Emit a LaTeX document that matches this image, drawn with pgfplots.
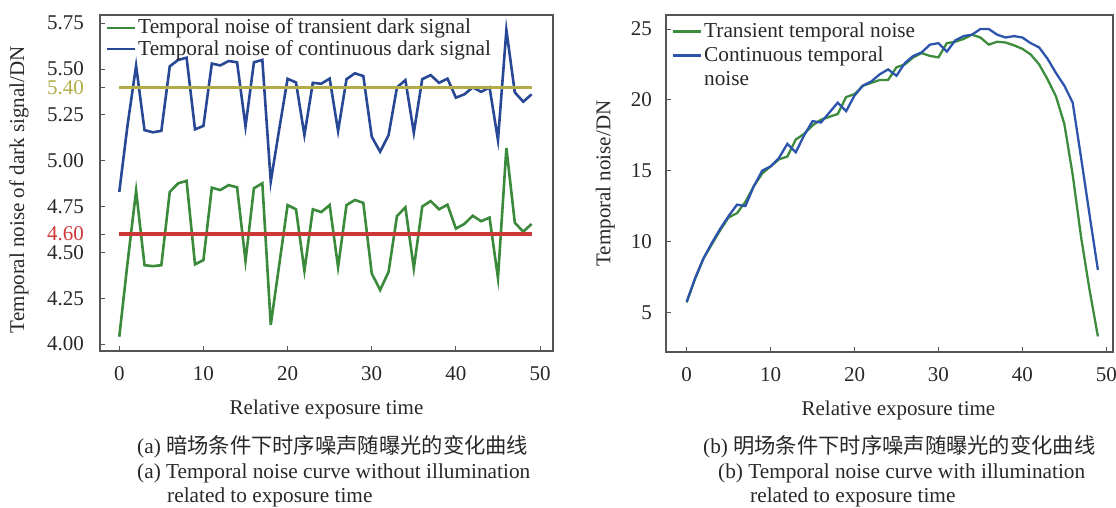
\documentclass[border=0pt]{standalone}
\usepackage{fontspec}
\setmainfont{Liberation Serif}
\newfontfamily\cjk{Noto Sans CJK SC}
\usepackage{pgfplots}
\pgfplotsset{compat=1.18}
\definecolor{lgreen}{RGB}{59,138,59}
\definecolor{lblue}{RGB}{40,72,150}
\definecolor{rgreen}{RGB}{60,140,60}
\definecolor{rblue}{RGB}{45,84,172}
\definecolor{olivel}{RGB}{178,172,72}
\definecolor{redl}{RGB}{204,56,56}
\definecolor{framegray}{RGB}{85,85,85}
\definecolor{textgray}{RGB}{40,40,40}

\pgfplotstableread{
x t c
0 4.04 4.83
1 4.45 5.20
2 4.836 5.518
3 4.43 5.167
4 4.425 5.155
5 4.43 5.163
6 4.83 5.515
7 4.877 5.55
8 4.89 5.562
9 4.435 5.171
10 4.458 5.19
11 4.853 5.53
12 4.84 5.52
13 4.867 5.544
14 4.855 5.537
15 4.453 5.187
16 4.85 5.537
17 4.877 5.55
18 4.104 4.886
19 4.43 5.17
20 4.758 5.447
21 4.735 5.427
22 4.40 5.14
23 4.735 5.425
24 4.72 5.42
25 4.758 5.448
26 4.42 5.162
27 4.758 5.445
28 4.786 5.477
29 4.77 5.462
30 4.385 5.131
31 4.295 5.049
32 4.394 5.14
33 4.698 5.40
34 4.746 5.44
35 4.413 5.153
36 4.75 5.445
37 4.78 5.467
38 4.735 5.425
39 4.76 5.448
40 4.63 5.344
41 4.655 5.362
42 4.70 5.40
43 4.67 5.376
44 4.69 5.40
45 4.36 5.113
46 5.07 5.713
47 4.662 5.373
48 4.613 5.322
49 4.655 5.362
}\darktable

\pgfplotstableread{
x t c
0 5.7 5.75
1 7.35 7.4
2 8.8 8.8
3 9.8 9.9
4 10.8 10.9
5 11.7 11.8
6 12.0 12.6
7 12.8 12.5
8 13.9 13.9
9 14.8 15.0
10 15.3 15.3
11 15.8 15.9
12 16.0 16.9
13 17.2 16.3
14 17.6 17.5
15 18.2 18.5
16 18.6 18.4
17 18.8 19.1
18 19.0 19.8
19 20.2 19.2
20 20.4 20.3
21 21.0 21.0
22 21.2 21.3
23 21.4 21.8
24 21.4 22.15
25 22.3 21.7
26 22.5 22.6
27 23.0 23.1
28 23.3 23.35
29 23.1 23.9
30 23.0 24.0
31 24.0 23.4
32 24.1 24.2
33 24.3 24.5
34 24.6 24.6
35 24.4 25.0
36 23.9 25.0
37 24.1 24.6
38 24.05 24.4
39 23.85 24.5
40 23.6 24.4
41 23.2 24.0
42 22.5 23.7
43 21.45 22.9
44 20.25 21.9
45 18.3 21.0
46 14.7 19.8
47 10.3 15.9
48 6.6 11.9
49 3.3 8.0
}\lighttable

\begin{document}
\fontsize{21.3}{24}\selectfont
\begin{tikzpicture}
\path[use as bounding box] (0pt,0pt) rectangle (1116pt,-508pt);
\pgfplotsset{
  every axis/.append style={
    scale only axis,
    axis line style={draw=framegray, line width=1.1pt},
    tick style={draw=framegray, line width=0.9pt},
    major tick length=5pt,
    tick align=inside,
    xtick pos=bottom, ytick pos=left,
    /pgf/number format/assume math mode=true,
    tick label style={font=\fontsize{21}{24}\selectfont, text=textgray},
    label style={font=\fontsize{21}{24}\selectfont, text=textgray},
    xticklabel style={yshift=-8pt},
    yticklabel style={inner sep=0pt, xshift=-16pt},
    legend style={draw=none, fill=none, inner sep=0pt, font=\fontsize{21.3}{23}\selectfont, text=textgray, row sep=-1pt},
    legend cell align=left,
    legend image code/.code={\draw[#1, line width=2.6pt] (0pt,0pt) -- (28pt,0pt);},
  }
}
\begin{axis}[
  at={(100pt,-351pt)}, anchor=south west,
  width=453pt, height=336pt,
  xmin=-2.29, xmax=51.54, ymin=3.962, ymax=5.795,
  xtick={0,10,20,30,40,50},
  ytick={4,4.25,4.5,4.6,4.75,5,5.25,5.4,5.5,5.75},
  yticklabels={4.00,4.25,4.50,\textcolor{redl}{4.60},4.75,5.00,5.25,\textcolor{olivel}{5.40},5.50,5.75},
  xlabel={Relative exposure time},
  ylabel={Temporal noise of dark signal/DN},
  xlabel style={at={(axis description cs:0.5,0)}, anchor=center, yshift=-58pt},
  ylabel style={at={(axis description cs:-0.179,0.48)}, anchor=center, rotate=0},
  legend style={at={(axis description cs:0.012,0.995)}, anchor=north west},
]
\addplot[lgreen, line width=2.6pt] table[x=x, y=t] {\darktable};
\addlegendentry{Temporal noise of transient dark signal}
\addplot[lblue, line width=2.6pt] table[x=x, y=c] {\darktable};
\addlegendentry{Temporal noise of continuous dark signal}
\addplot[olivel, line width=3.2pt, forget plot] coordinates {(0,5.4) (49,5.4)};
\addplot[redl, line width=3.2pt, forget plot] coordinates {(0,4.6) (49,4.6)};
\end{axis}

\begin{axis}[
  at={(666pt,-352pt)}, anchor=south west,
  width=447pt, height=337pt,
  xmin=-2.46, xmax=50.8, ymin=2.2, ymax=25.99,
  xtick={0,10,20,30,40,50},
  ytick={5,10,15,20,25},
  yticklabel style={xshift=2pt},
  xlabel={Relative exposure time},
  ylabel={Temporal noise/DN},
  xlabel style={at={(axis description cs:0.52,0)}, anchor=center, yshift=-58pt},
  ylabel style={at={(axis description cs:-0.136,0.5)}, anchor=center},
  legend style={at={(axis description cs:0.012,0.985)}, anchor=north west, row sep=2.5pt},
]
\addplot[rgreen, line width=2.3pt] table[x=x, y=t] {\lighttable};
\addlegendentry{Transient temporal noise}
\addplot[rblue, line width=2.3pt] table[x=x, y=c] {\lighttable};
\addlegendentry{Continuous temporal}
\addlegendimage{empty legend}
\addlegendentry{noise}
\end{axis}

\begin{scope}[every node/.style={inner sep=0pt, text=textgray, font=\fontsize{21.3}{24}\selectfont}]
\node[anchor=west] at (137pt,-447pt) {(a) {\cjk 暗场条件下时序噪声随曝光的变化曲线}};
\node[anchor=west] at (137pt,-473pt) {(a) Temporal noise curve without illumination};
\node[anchor=west] at (167pt,-497pt) {related to exposure time};
\node[anchor=west] at (703pt,-447pt) {(b) {\cjk 明场条件下时序噪声随曝光的变化曲线}};
\node[anchor=west] at (718pt,-473pt) {(b) Temporal noise curve with illumination};
\node[anchor=west] at (750pt,-497pt) {related to exposure time};
\end{scope}
\end{tikzpicture}
\end{document}
